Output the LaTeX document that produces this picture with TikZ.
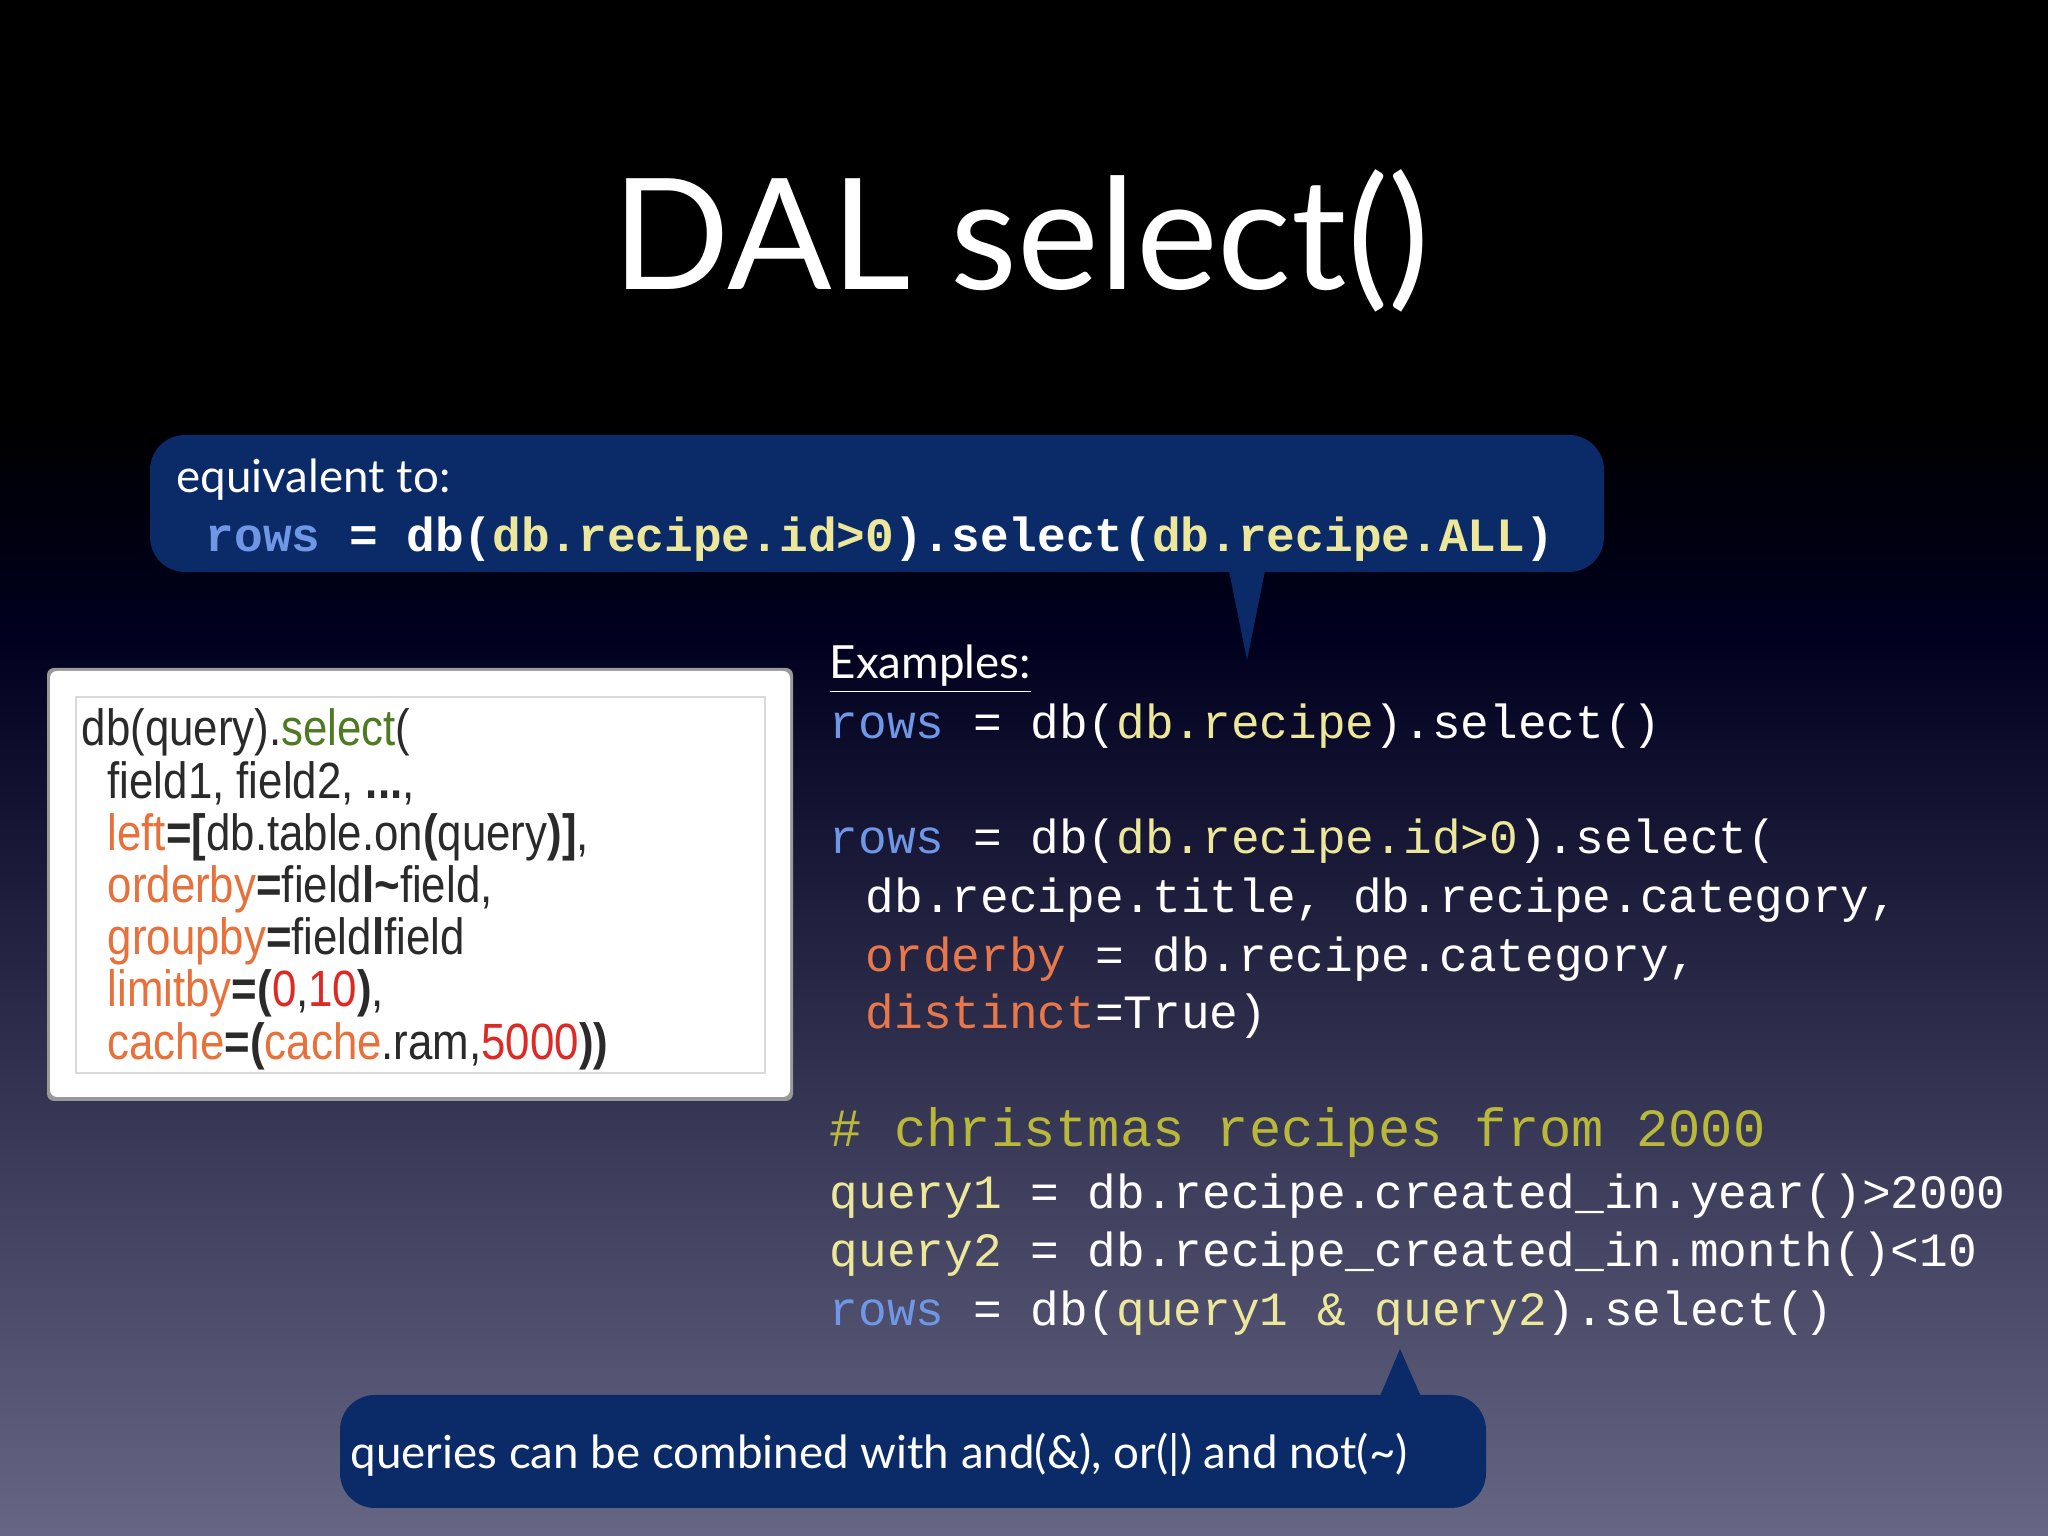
\documentclass[tikz,border=0pt]{standalone}
\usepackage{fontspec}
\setmainfont{Lato}
\newfontfamily\codefont{Liberation Mono}
\newfontfamily\boxfont[FakeStretch=0.86]{Liberation Sans}
\usetikzlibrary{positioning}
\definecolor{bubble}{HTML}{0B2A68}
\definecolor{kwblue}{HTML}{7096E6}
\definecolor{argyel}{HTML}{EDE79A}
\definecolor{kworange}{HTML}{E8784A}
\definecolor{cmtolive}{HTML}{B9B838}
\definecolor{boxorange}{HTML}{E8703A}
\definecolor{boxred}{HTML}{DD2A24}
\definecolor{boxgreen}{HTML}{4E7A22}
\definecolor{boxtext}{HTML}{2A2A2A}
\begin{document}
\begin{tikzpicture}[every node/.style={inner sep=0pt},
  code/.style={anchor=mid west, text=white, font=\codefont\fontsize{13.6}{16}\selectfont},
  boxline/.style={anchor=mid west, text=boxtext, font=\boxfont\fontsize{14.5}{17}\selectfont},
  talk/.style={anchor=mid west, text=white, font=\fontsize{13}{16}\selectfont},
  callout/.style={fill=bubble, rounded corners=0.35cm}]
% background
\shade[top color=black, bottom color=black!55!blue!35!gray, middle color=black!85!blue] (0,0) rectangle (20.48,15.36);
\fill[black] (0,15.36) rectangle (20.48,11.2);
\shade[top color=black, bottom color=black!88!blue] (0,11.2) rectangle (20.48,9.0);
\shade[top color=black!88!blue, bottom color=black!40!blue!20!gray] (0,9.0) rectangle (20.48,0);
% title
\node[text=white, font=\fontsize{44}{52}\selectfont] (title) at (10.21,12.95) {DAL select()};
% top callout
\fill[callout] (1.50,9.64) rectangle (16.04,11.01);
\coordinate (tipA) at (12.47,8.76);
\fill[bubble] (12.28,9.70) -- (tipA) -- (12.66,9.70) -- cycle;
\node[talk] (equiv) at (1.76,10.52) {equivalent to:};
\node[code, font=\codefont\bfseries\fontsize{13.6}{16}\selectfont] (equivcode) at (2.05,9.93)
  {\textcolor{kwblue}{rows} = db(\textcolor{argyel}{db.recipe.id>0}).select(\textcolor{argyel}{db.recipe.ALL})};
% syntax box
\fill[black!40, rounded corners=2pt] (0.47,4.35) rectangle (7.93,8.68);
\fill[white, rounded corners=2pt] (0.50,4.39) rectangle (7.90,8.65);
\draw[black!15] (0.76,4.63) rectangle (7.65,8.39);
\node[boxline] (s1) at (0.81,7.99) {db(query).\textcolor{boxgreen}{select}(};
\node[boxline] (s2) at (1.07,7.46) {field1, field2, \textbf{...},};
\node[boxline] (s3) at (1.07,6.94) {\textcolor{boxorange}{left}\textbf{=[}db.table.on\textbf{(}query\textbf{)]},};
\node[boxline] (s4) at (1.07,6.42) {\textcolor{boxorange}{orderby}\textbf{=}field\textbf{l\textasciitilde}field,};
\node[boxline] (s5) at (1.07,5.90) {\textcolor{boxorange}{groupby}\textbf{=}field\textbf{l}field};
\node[boxline] (s6) at (1.07,5.38) {\textcolor{boxorange}{limitby}\textbf{=(}\textcolor{boxred}{0},\textcolor{boxred}{10}\textbf{)},};
\node[boxline] (s7) at (1.07,4.85) {\textcolor{boxorange}{cache}\textbf{=(}\textcolor{boxorange}{cache}.ram,\textcolor{boxred}{5000}\textbf{))}};
% examples
\node[talk] (ex) at (8.29,8.66) {\underline{Examples:}};
\node[code] (c1) at (8.29,8.06) {\textcolor{kwblue}{rows} = db(\textcolor{argyel}{db.recipe}).select()};
\node[code] (c2) at (8.29,6.91) {\textcolor{kwblue}{rows} = db(\textcolor{argyel}{db.recipe.id>0}).select(};
\node[code] (c3) at (8.65,6.32) {db.recipe.title, db.recipe.category,};
\node[code] (c4) at (8.65,5.73) {\textcolor{kworange}{orderby} = db.recipe.category,};
\node[code] (c5) at (8.65,5.16) {\textcolor{kworange}{distinct}=True)};
\node[code, text=cmtolive, font=\codefont\fontsize{15.3}{18}\selectfont] (c6) at (8.29,3.98) {\# christmas recipes from 2000};
\node[code] (c7) at (8.29,3.36) {\textcolor{argyel}{query1} = db.recipe.created\_in.year()>2000};
\node[code] (c8) at (8.29,2.78) {\textcolor{argyel}{query2} = db.recipe\_created\_in.month()<10};
\node[code] (c9) at (8.29,2.19) {\textcolor{kwblue}{rows} = db(\textcolor{argyel}{query1 \& query2}).select()};
% bottom callout
\fill[callout] (3.40,0.28) rectangle (14.86,1.41);
\coordinate (tipB) at (14.00,1.87);
\fill[bubble] (13.78,1.35) -- (tipB) -- (14.23,1.35) -- cycle;
\node[talk] (combine) at (3.50,0.76) {queries can be combined with and(\&), or(|) and not(\textasciitilde)};
\end{tikzpicture}
\end{document}
